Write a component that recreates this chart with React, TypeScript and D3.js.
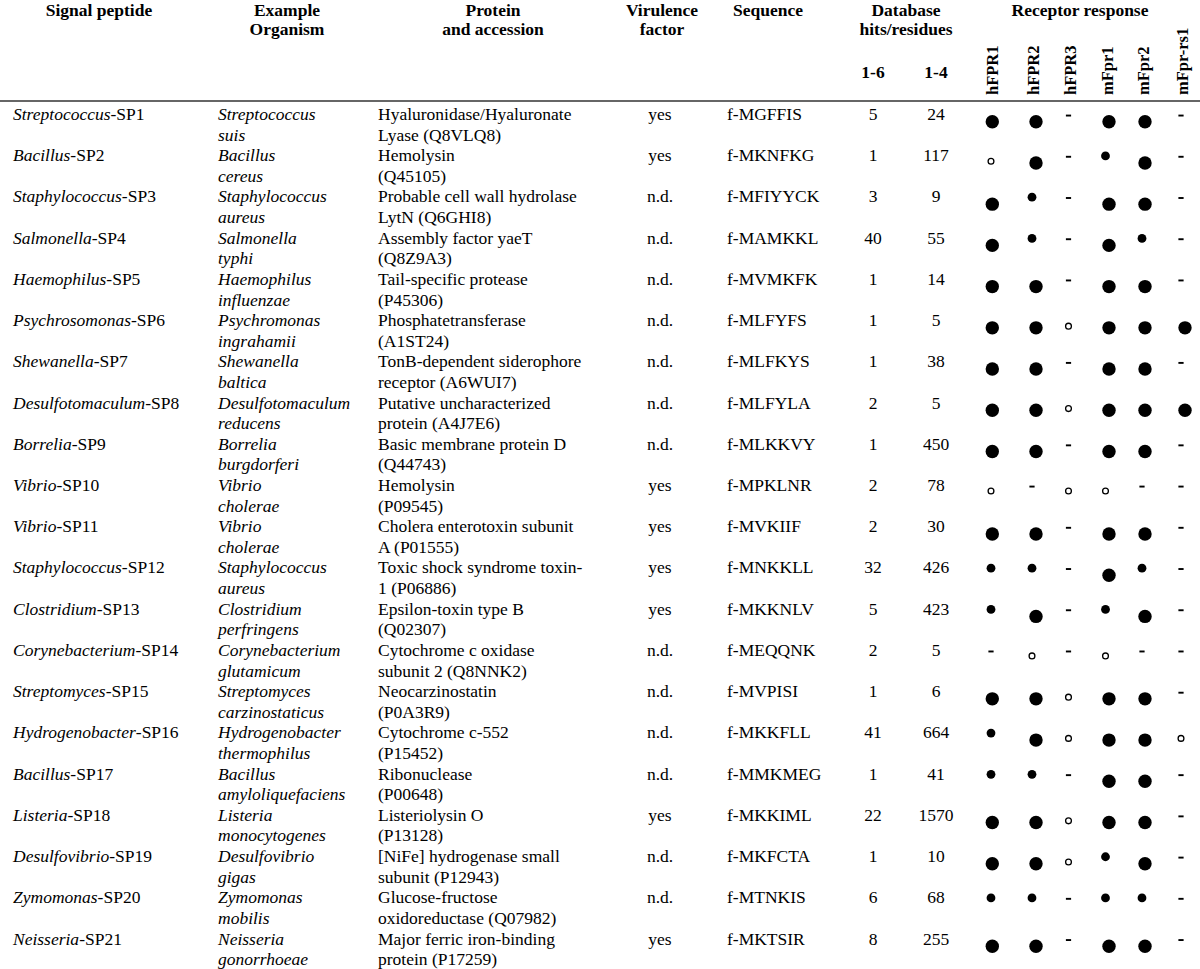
import React from "react";
import * as d3 from "d3";

// ---------- DATA ----------
const genera = ["Streptococcus","Bacillus","Staphylococcus","Salmonella","Haemophilus","Psychrosomonas","Shewanella","Desulfotomaculum","Borrelia","Vibrio","Vibrio","Staphylococcus","Clostridium","Corynebacterium","Streptomyces","Hydrogenobacter","Bacillus","Listeria","Desulfovibrio","Zymomonas","Neisseria"];
const peptideIds = ["SP1","SP2","SP3","SP4","SP5","SP6","SP7","SP8","SP9","SP10","SP11","SP12","SP13","SP14","SP15","SP16","SP17","SP18","SP19","SP20","SP21"];
const organismGenus = ["Streptococcus","Bacillus","Staphylococcus","Salmonella","Haemophilus","Psychromonas","Shewanella","Desulfotomaculum","Borrelia","Vibrio","Vibrio","Staphylococcus","Clostridium","Corynebacterium","Streptomyces","Hydrogenobacter","Bacillus","Listeria","Desulfovibrio","Zymomonas","Neisseria"];
const organismSpecies = ["suis","cereus","aureus","typhi","influenzae","ingrahamii","baltica","reducens","burgdorferi","cholerae","cholerae","aureus","perfringens","glutamicum","carzinostaticus","thermophilus","amyloliquefaciens","monocytogenes","gigas","mobilis","gonorrhoeae"];
const proteinLine1 = ["Hyaluronidase/Hyaluronate","Hemolysin","Probable cell wall hydrolase","Assembly factor yaeT","Tail-specific protease","Phosphatetransferase","TonB-dependent siderophore","Putative uncharacterized","Basic membrane protein D","Hemolysin","Cholera enterotoxin subunit","Toxic shock syndrome toxin-","Epsilon-toxin type B","Cytochrome c oxidase","Neocarzinostatin","Cytochrome c-552","Ribonuclease","Listeriolysin O","[NiFe] hydrogenase small","Glucose-fructose","Major ferric iron-binding"];
const proteinLine2 = ["Lyase (Q8VLQ8)","(Q45105)","LytN (Q6GHI8)","(Q8Z9A3)","(P45306)","(A1ST24)","receptor (A6WUI7)","protein (A4J7E6)","(Q44743)","(P09545)","A (P01555)","1 (P06886)","(Q02307)","subunit 2 (Q8NNK2)","(P0A3R9)","(P15452)","(P00648)","(P13128)","subunit (P12943)","oxidoreductase (Q07982)","protein (P17259)"];
const virulence = ["yes","yes","n.d.","n.d.","n.d.","n.d.","n.d.","n.d.","n.d.","yes","yes","yes","yes","n.d.","n.d.","n.d.","n.d.","yes","n.d.","n.d.","yes"];
const sequences = ["f-MGFFIS","f-MKNFKG","f-MFIYYCK","f-MAMKKL","f-MVMKFK","f-MLFYFS","f-MLFKYS","f-MLFYLA","f-MLKKVY","f-MPKLNR","f-MVKIIF","f-MNKKLL","f-MKKNLV","f-MEQQNK","f-MVPISI","f-MKKFLL","f-MMKMEG","f-MKKIML","f-MKFCTA","f-MTNKIS","f-MKTSIR"];
const hits16 = [5,1,3,40,1,1,1,2,1,2,2,32,5,2,1,41,1,22,1,6,8];
const hits14 = [24,117,9,55,14,5,38,5,450,78,30,426,423,5,6,664,41,1570,10,68,255];
const receptors = ["hFPR1","hFPR2","hFPR3","mFpr1","mFpr2","mFpr-rs1"];
// L = strong (large dot), S = weak (small dot), O = marginal (open circle), D = none (dash)
const responses = [
  "LLDLLD","OLDSLD","LSDLLD","LSDLSD","LLDLLD","LLOLLL","LLDLLD","LLOLLL","LLDLLD","ODOODD",
  "LLDLLD","SSDLSD","SLDSLD","DODODD","LLOLLD","SLOLLO","SSDLLD","LLOLLD","LLOSLD","SSDSSD","LLDLLD"
];

// ---------- LAYOUT ----------
const W = 1200, H = 969;
const FONT = "'Liberation Serif', 'Times New Roman', serif";
const FS = 17.5;

export default function App() {
  const n = genera.length;
  const y = d3.scaleLinear().domain([0, n - 1]).range([114, 938.5]); // line-1 visual centre
  const lineGap = (y(1) - y(0)) / 2;
  const xRec = d3.scaleOrdinal<string, number>().domain(receptors).range([991, 1032, 1068.5, 1105.5, 1142, 1181]);
  const largeDx = d3.scaleOrdinal<string, number>().domain(receptors).range([1.3, 4, 0, 3.5, 3, 4]);
  const base = 6; // centre -> baseline

  const headerBold = { fontFamily: FONT, fontSize: FS, fontWeight: 700 as const, fill: "#000" };
  const body = { fontFamily: FONT, fontSize: FS, fill: "#000" };

  const symbol = (code: string, rec: string, cy: number, key: string) => {
    const cx = xRec(rec);
    if (code === "L") return <circle key={key} cx={cx + largeDx(rec)} cy={cy + 7.7} r={6.7} fill="#000" />;
    if (code === "S") return <circle key={key} cx={cx} cy={cy + 0.7} r={4.4} fill="#000" />;
    if (code === "O") return <circle key={key} cx={cx} cy={cy + 6} r={2.9} fill="none" stroke="#000" strokeWidth={1.3} />;
    return <rect key={key} x={cx - 2.6} y={cy + 0.6} width={5.2} height={1.9} fill="#000" />;
  };

  return (
    <svg width={W} height={H} viewBox={`0 0 ${W} ${H}`} style={{ position: "absolute", left: 0, top: 0, background: "#fff" }}>
      <rect width={W} height={H} fill="#fff" />
      {/* headers */}
      <g style={headerBold} textAnchor="middle">
        <text x={99} y={15.5}>Signal peptide</text>
        <text x={287} y={15.5}>Example</text>
        <text x={287} y={35}>Organism</text>
        <text x={493} y={15.5}>Protein</text>
        <text x={493} y={35}>and accession</text>
        <text x={662} y={15.5}>Virulence</text>
        <text x={662} y={35}>factor</text>
        <text x={768} y={15.5}>Sequence</text>
        <text x={906} y={15.5}>Database</text>
        <text x={906} y={35}>hits/residues</text>
        <text x={1080} y={15.5}>Receptor response</text>
        <text x={873} y={78}>1-6</text>
        <text x={936} y={78}>1-4</text>
      </g>
      <g style={{ ...headerBold, fontSize: 16.5 }}>
        {receptors.map((r) => (
          <text key={r} transform={`translate(${xRec(r) + 7},95) rotate(-90)`} textAnchor="start">{r}</text>
        ))}
      </g>
      <line x1={0} x2={W} y1={101} y2={101} stroke="#333" strokeWidth={1.6} />

      {/* body rows */}
      {genera.map((g, i) => {
        const c = y(i);
        return (
          <g key={i} style={body}>
            <text x={13} y={c + base}><tspan fontStyle="italic">{g}</tspan>-{peptideIds[i]}</text>
            <text x={218} y={c + base} fontStyle="italic">{organismGenus[i]}</text>
            <text x={218} y={c + lineGap + base} fontStyle="italic">{organismSpecies[i]}</text>
            <text x={378} y={c + base}>{proteinLine1[i]}</text>
            <text x={378} y={c + lineGap + base}>{proteinLine2[i]}</text>
            <text x={660} y={c + base} textAnchor="middle">{virulence[i]}</text>
            <text x={727} y={c + base}>{sequences[i]}</text>
            <text x={873} y={c + base} textAnchor="middle">{hits16[i]}</text>
            <text x={936} y={c + base} textAnchor="middle">{hits14[i]}</text>
            {receptors.map((r, j) => symbol(responses[i][j], r, c, `s${j}`))}
          </g>
        );
      })}
    </svg>
  );
}
